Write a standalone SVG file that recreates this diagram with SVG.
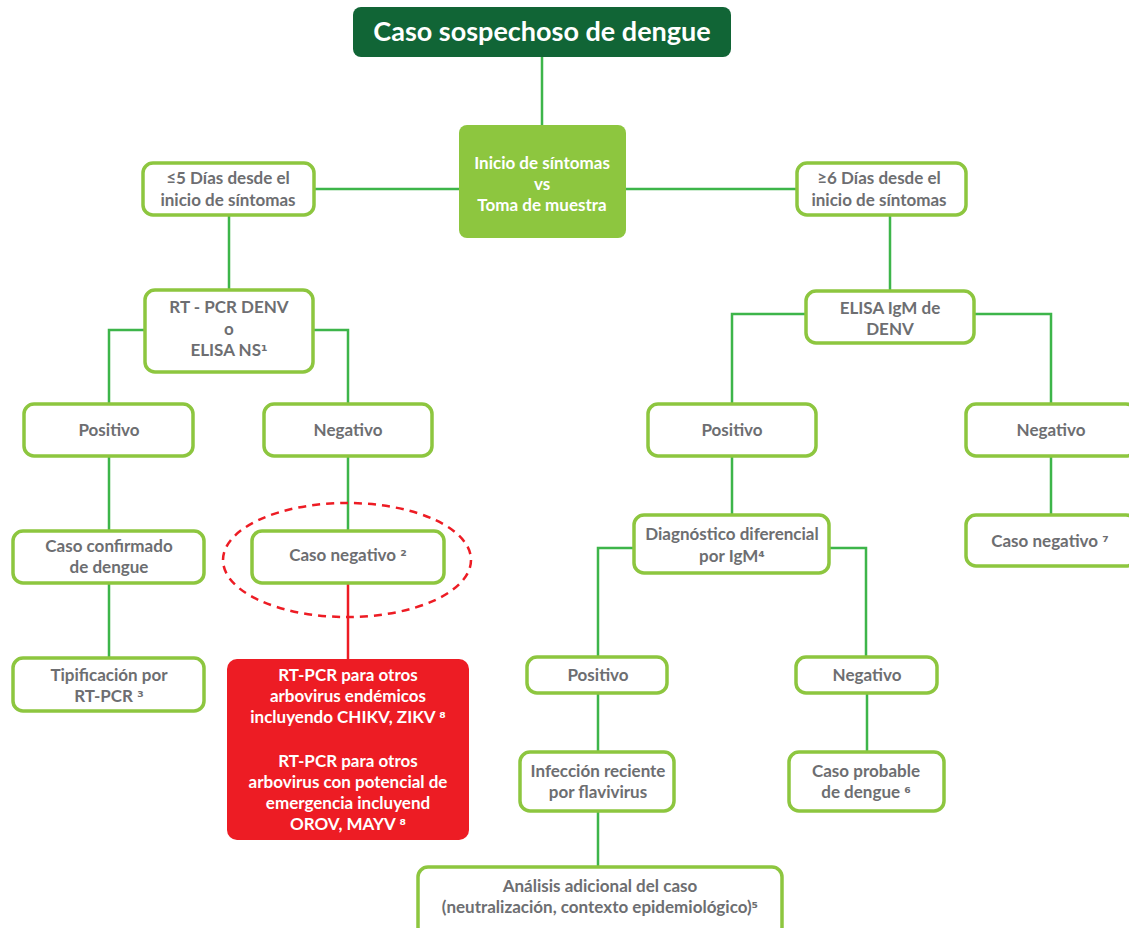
<svg xmlns="http://www.w3.org/2000/svg" width="1129" height="928" viewBox="0 0 1129 928">
<style>
.box{fill:#ffffff;stroke:#8dc63f;stroke-width:3.5}
.t{font-family:Lato,"Open Sans","DejaVu Sans",sans-serif;font-weight:bold;font-size:17px;fill:#6d6e71;text-anchor:middle}
.w{fill:#ffffff}
.s{font-family:"DejaVu Sans",sans-serif;font-size:15px}
.c{fill:none;stroke:#3db54a;stroke-width:2.5}
</style>
<rect width="1129" height="928" fill="#ffffff"/>
<g id="connectors">
<path class="c" d="M542,57V125M314,189H459M626,189H797M229,215V290M890,215V291M145,330H109V404M313,330H348V404M109,456V531M348,456V531M109,583V658M806,314H732V404M974,314H1051V404M732,456V515M1051,456V515M634,548H598V657M829,548H866V657M598,693V752M867,693V752M598,811V867"/>
<path d="M348,583V659" fill="none" stroke="#ed1c24" stroke-width="2.5"/>
</g>
<g id="title"><rect x="353" y="7" width="378" height="50" rx="8" fill="#116536"/><text class="t w" x="542" y="41" style="font-size:27px">Caso sospechoso de dengue</text></g>
<g id="inicio"><rect x="459" y="125" width="167" height="113" rx="8" fill="#8dc63f"/><text class="t w" x="542" y="169">Inicio de síntomas</text><text class="t w" x="542" y="190">vs</text><text class="t w" x="542" y="211">Toma de muestra</text></g>
<g id="le5"><rect class="box" x="143" y="163" width="171" height="52" rx="10"/><text class="t" x="228" y="184">≤5 Días desde el</text><text class="t" x="228" y="206">inicio de síntomas</text></g>
<g id="ge6"><rect class="box" x="797" y="163" width="169" height="52" rx="10"/><text class="t" x="879" y="184">≥6 Días desde el</text><text class="t" x="879" y="206">inicio de síntomas</text></g>
<g id="rtpcr"><rect class="box" x="145" y="290" width="168" height="82" rx="10"/><text class="t" x="229" y="313">RT - PCR DENV</text><text class="t" x="229" y="335">o</text><text class="t" x="229" y="356">ELISA NS<tspan class="s">¹</tspan></text></g>
<g id="elisa"><rect class="box" x="806" y="291" width="168" height="52" rx="10"/><text class="t" x="890" y="314">ELISA IgM de</text><text class="t" x="890" y="335">DENV</text></g>
<g id="pos1"><rect class="box" x="24" y="404" width="169" height="52" rx="10"/><text class="t" x="109" y="436">Positivo</text></g>
<g id="neg1"><rect class="box" x="264" y="404" width="168" height="52" rx="10"/><text class="t" x="348" y="436">Negativo</text></g>
<g id="pos2"><rect class="box" x="648" y="404" width="168" height="52" rx="10"/><text class="t" x="732" y="436">Positivo</text></g>
<g id="neg2"><rect class="box" x="966" y="404" width="170" height="52" rx="10"/><text class="t" x="1051" y="436">Negativo</text></g>
<g id="confirmado"><rect class="box" x="13" y="531" width="191" height="52" rx="10"/><text class="t" x="109" y="552">Caso confirmado</text><text class="t" x="109" y="573">de dengue</text></g>
<g id="casoneg2"><rect class="box" x="252" y="531" width="192" height="52" rx="10"/><text class="t" x="348" y="561">Caso negativo <tspan class="s">²</tspan></text></g>
<ellipse cx="347" cy="560" rx="124" ry="57" fill="none" stroke="#ed1c24" stroke-width="2.5" stroke-dasharray="8 6"/>
<g id="diag"><rect class="box" x="634" y="515" width="195" height="58" rx="10"/><text class="t" x="732" y="540">Diagnóstico diferencial</text><text class="t" x="732" y="562">por IgM<tspan class="s">⁴</tspan></text></g>
<g id="casoneg7"><rect class="box" x="966" y="515" width="170" height="51" rx="10"/><text class="t" x="1050" y="547">Caso negativo <tspan class="s">⁷</tspan></text></g>
<g id="tipif"><rect class="box" x="13" y="658" width="191" height="53" rx="10"/><text class="t" x="109" y="681">Tipificación por</text><text class="t" x="109" y="702">RT-PCR <tspan class="s">³</tspan></text></g>
<g id="otros"><rect x="227" y="659" width="242" height="181" rx="10" fill="#ed1c24"/><text class="t w" x="348" y="681">RT-PCR para otros</text><text class="t w" x="348" y="702">arbovirus endémicos</text><text class="t w" x="348" y="723">incluyendo CHIKV, ZIKV <tspan class="s">⁸</tspan></text><text class="t w" x="348" y="767">RT-PCR para otros</text><text class="t w" x="348" y="788">arbovirus con potencial de</text><text class="t w" x="348" y="809">emergencia incluyend</text><text class="t w" x="348" y="830">OROV, MAYV <tspan class="s">⁸</tspan></text></g>
<g id="pos3"><rect class="box" x="527" y="657" width="140" height="36" rx="10"/><text class="t" x="598" y="681">Positivo</text></g>
<g id="neg3"><rect class="box" x="796" y="657" width="141" height="36" rx="10"/><text class="t" x="867" y="681">Negativo</text></g>
<g id="infeccion"><rect class="box" x="520" y="752" width="154" height="59" rx="10"/><text class="t" x="598" y="777">Infección reciente</text><text class="t" x="598" y="798">por flavivirus</text></g>
<g id="probable"><rect class="box" x="789" y="752" width="155" height="59" rx="10"/><text class="t" x="866" y="777">Caso probable</text><text class="t" x="866" y="798">de dengue <tspan class="s">⁶</tspan></text></g>
<g id="analisis"><rect class="box" x="418" y="867" width="364" height="70" rx="10"/><text class="t" x="600" y="892">Análisis adicional del caso</text><text class="t" x="600" y="913">(neutralización, contexto epidemiológico)<tspan class="s">⁵</tspan></text></g>
</svg>
